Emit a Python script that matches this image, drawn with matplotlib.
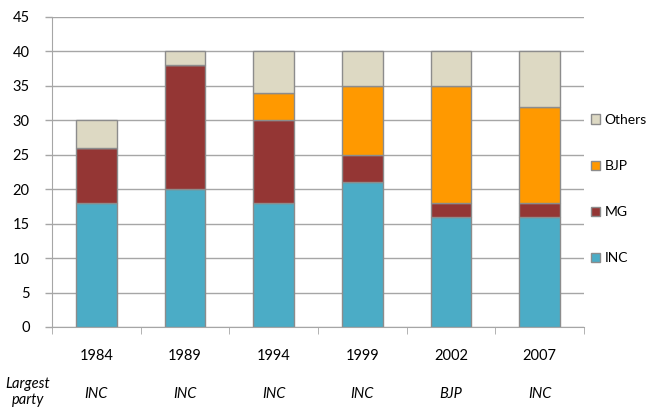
import matplotlib
matplotlib.use("Agg")
import matplotlib.pyplot as plt
import numpy as np

years = ["1984", "1989", "1994", "1999", "2002", "2007"]
largest = ["INC", "INC", "INC", "INC", "BJP", "INC"]
inc = [18, 20, 18, 21, 16, 16]
mg = [8, 18, 12, 4, 2, 2]
bjp = [0, 0, 4, 10, 17, 14]
others = [4, 2, 6, 5, 5, 8]

series = [("INC", inc, "#4BACC6"), ("MG", mg, "#943634"),
          ("BJP", bjp, "#FF9900"), ("Others", others, "#DDD9C3")]

plt.rcParams['font.family'] = ['Lato', 'DejaVu Sans']
fig = plt.figure(figsize=(6.57, 4.18), dpi=100)
ax = fig.add_axes([52/657, 1-327/418, (584-52)/657, (327-17)/418])

x = np.arange(len(years))
bottom = np.zeros(len(years))
handles = []
for name, vals, col in series:
    v = np.array(vals, dtype=float)
    b = ax.bar(x, v, 0.46, bottom=bottom, color=col, edgecolor="#8C8C8C",
               linewidth=1.0, label=name, zorder=3)
    handles.append(b)
    bottom += v

ax.set_xlim(-0.5, len(years) - 0.5)
ax.set_ylim(0, 45)
ax.set_yticks(range(0, 46, 5))
ax.yaxis.grid(True, color="#A6A6A6", linewidth=1.0, zorder=0)
ax.set_axisbelow(True)
for s in ["top", "right"]:
    ax.spines[s].set_visible(False)
ax.spines["left"].set_color("#A6A6A6")
ax.spines["bottom"].set_color("#A6A6A6")
ax.tick_params(axis="y", length=5, width=1.0, color="#A6A6A6", labelsize=10.5,
               pad=11, labelcolor="black")
ax.set_xticks(x)
ax.set_xticklabels(years, fontsize=10.5)
ax.tick_params(axis="x", which="major", length=0, pad=16)
ax.set_xticks(np.arange(-0.5, len(years) + 0.5, 1), minor=True)
ax.tick_params(axis="x", which="minor", length=5, color="#A6A6A6")

for i, p in enumerate(largest):
    ax.text(x[i], -9.7, p, ha="center", va="center", fontsize=10.5, style="italic")
fig.text(28/657, 1-392/418, "Largest\nparty", ha="center", va="center",
         fontsize=10.5, style="italic", linespacing=1.2)

leg = ax.legend(handles[::-1], [s[0] for s in series][::-1], loc="center left",
                bbox_to_anchor=(1.0, 0.445), frameon=False, fontsize=10,
                handlelength=0.65, handleheight=0.65, labelspacing=2.45,
                handletextpad=0.35, borderaxespad=0.3, borderpad=0.2)

fig.savefig("out.png", dpi=100)
